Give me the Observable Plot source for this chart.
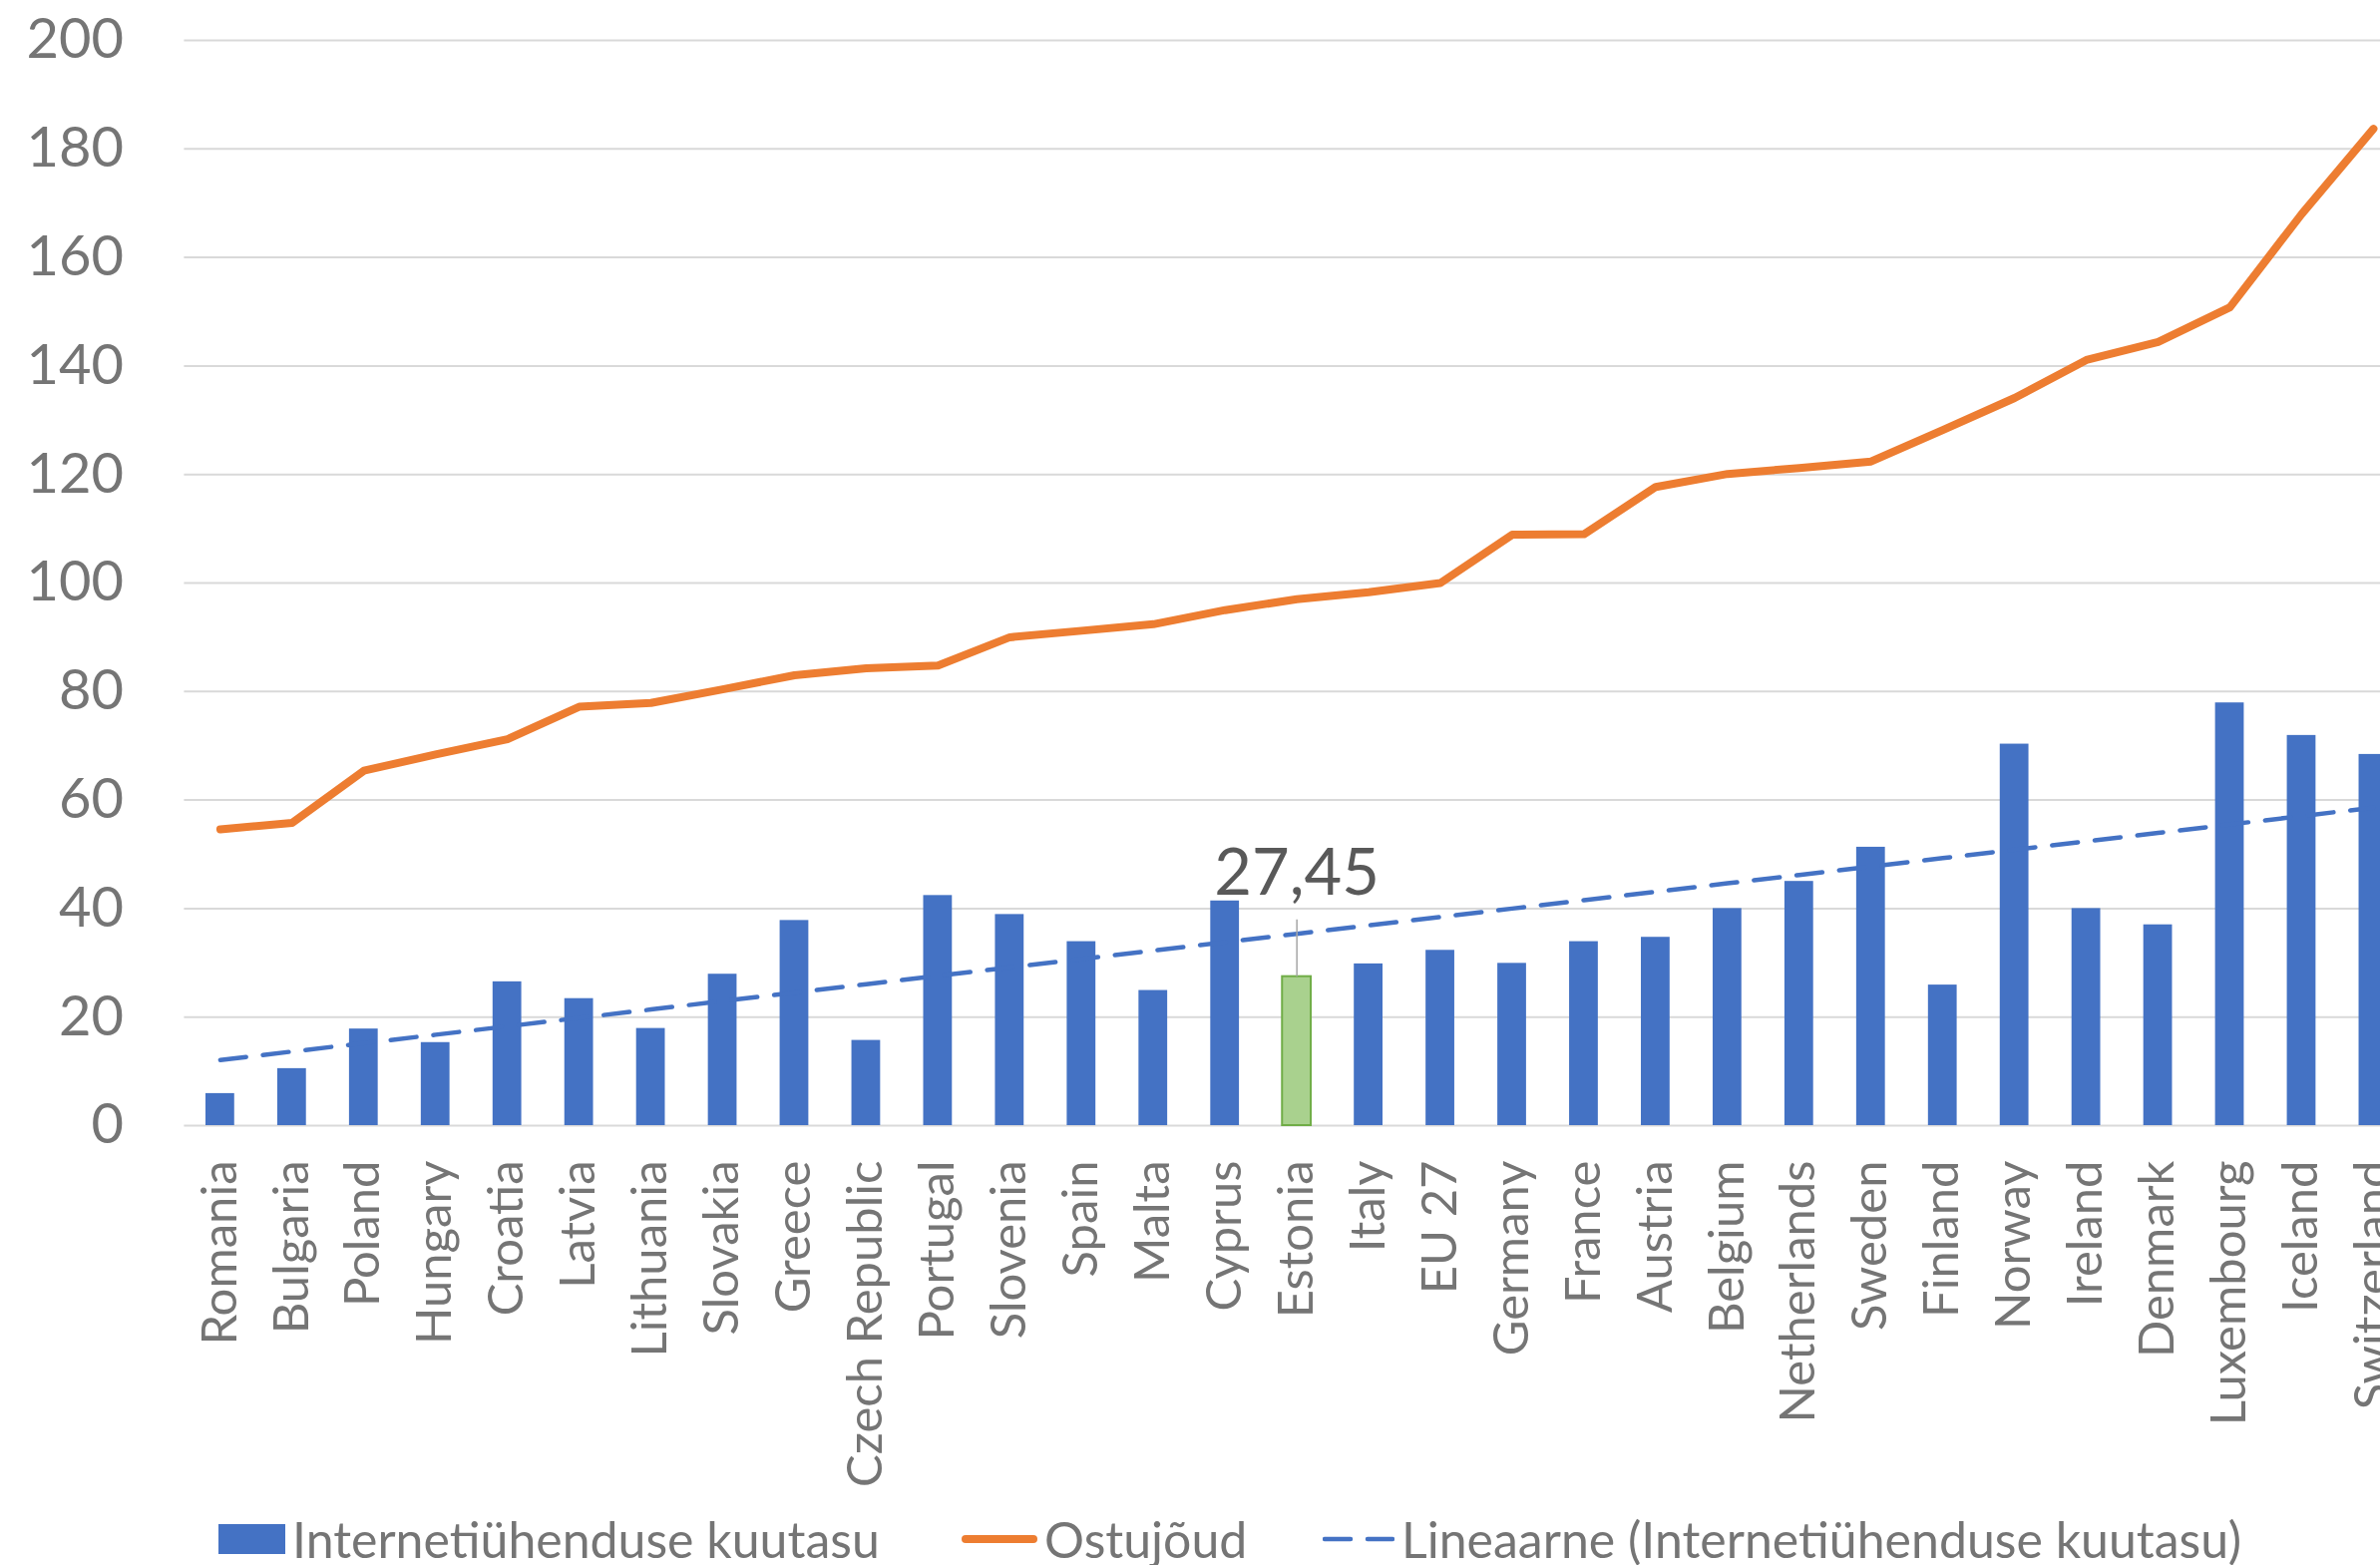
<!DOCTYPE html>
<html>
<head>
<meta charset="utf-8">
<script src="https://cdn.jsdelivr.net/npm/d3@7"></script>
<script src="https://cdn.jsdelivr.net/npm/@observablehq/plot@0.6"></script>
<style>
  html, body { margin: 0; padding: 0; background: #fff; width: 2386px; height: 1569px; overflow: hidden; }
  #chart { position: absolute; left: 0; top: 0; }
  #legend { position: absolute; left: 0; top: 1513px; width: 2386px; height: 60px;
            font-family: Lato, "Open Sans", sans-serif; font-size: 50px; color: #757575; }
  .item { position: absolute; top: 0; height: 60px; display: flex; align-items: center; gap: 7px; white-space: nowrap; }
  .item svg { display: block; }
</style>
</head>
<body>
<div id="chart"></div>
<div id="legend"></div>
<script>
// ---- data ----
const countries = ["Romania","Bulgaria","Poland","Hungary","Croatia","Latvia","Lithuania","Slovakia","Greece",
  "Czech Republic","Portugal","Slovenia","Spain","Malta","Cyprus","Estonia","Italy","EU 27","Germany","France",
  "Austria","Belgium","Netherlands","Sweden","Finland","Norway","Ireland","Denmark","Luxembourg","Iceland","Switzerland"];
const monthlyFee = [5.9, 10.5, 17.8, 15.3, 26.5, 23.4, 17.9, 27.9, 37.8,
  15.7, 42.4, 38.9, 33.9, 24.9, 41.4, 27.45, 29.8, 32.3, 29.9, 33.9,
  34.7, 40.0, 45.0, 51.3, 25.9, 70.3, 40.0, 37.0, 77.9, 71.9, 68.4];
const purchasingPower = [54.6, 55.8, 65.4, 68.4, 71.2, 77.2, 77.9, 80.4, 83.0,
  84.3, 84.8, 90.0, 91.2, 92.4, 95.0, 97.0, 98.3, 100.0, 108.9, 109.0,
  117.7, 120.1, 121.2, 122.4, 128.2, 134.1, 141.1, 144.4, 150.8, 168.0, 183.7];
const highlighted = "Estonia";
const yTicks = [0, 20, 40, 60, 80, 100, 120, 140, 160, 180, 200];
const seriesNames = ["Internetiühenduse kuutasu", "Ostujõud", "Lineaarne (Internetiühenduse kuutasu)"];

// ---- derived ----
const data = countries.map((c, i) => ({country: c, fee: monthlyFee[i], power: purchasingPower[i], i}));
const mx = d3.mean(data, d => d.i), my = d3.mean(data, d => d.fee);
const slope = d3.sum(data, d => (d.i - mx) * (d.fee - my)) / d3.sum(data, d => (d.i - mx) ** 2);
const trend = data.map(d => ({country: d.country, value: my + slope * (d.i - mx)}));
const hl = data.filter(d => d.country === highlighted);

const BLUE = "#4472C4", ORANGE = "#ED7D31", GRID = "#D9D9D9", TXT = "#757575";
const FONT = "Lato, 'Open Sans', sans-serif";

const chart = Plot.plot({
  width: 2420,
  height: 1500,
  marginTop: 40,
  marginBottom: 372,
  marginLeft: 184.4,
  marginRight: 5.1,
  style: {maxWidth: "none", background: "#fff", color: TXT, fontFamily: FONT, overflow: "visible"},
  x: {domain: countries, paddingInner: 0.6, paddingOuter: 0.3, round: false, axis: null},
  y: {domain: [0, 200], axis: null},
  marks: [
    Plot.gridY(yTicks, {stroke: GRID, strokeOpacity: 1, strokeWidth: 2}),
    Plot.axisY(yTicks, {tickSize: 0, tickPadding: 61, fontSize: 56, fill: TXT, fontFamily: FONT, label: null}),
    Plot.axisX({tickSize: 0, tickPadding: 35, tickRotate: -90, fontSize: 49, fill: TXT, fontFamily: FONT, label: null}),
    Plot.barY(data, {filter: d => d.country !== highlighted, x: "country", y: "fee", fill: BLUE}),
    Plot.barY(hl, {x: "country", y: "fee", fill: "#A9D18E", stroke: "#70AD47", strokeWidth: 2}),
    Plot.line(trend, {x: "country", y: "value", stroke: BLUE, strokeWidth: 4.5,
      strokeDasharray: "26,17", strokeLinecap: "round"}),
    Plot.line(data, {x: "country", y: "power", stroke: ORANGE, strokeWidth: 8,
      strokeLinejoin: "round", strokeLinecap: "round"}),
    Plot.ruleX(hl, {x: "country", y1: "fee", y2: "fee", insetTop: -57, stroke: "#A6A6A6", strokeWidth: 1.5}),
    Plot.text(hl, {x: "country", y: "fee", text: d => String(d.fee).replace(".", ","),
      dy: -82, lineAnchor: "bottom", fontSize: 65, fill: "#595959", fontFamily: FONT})
  ]
});
document.getElementById("chart").appendChild(chart);

// ---- legend (HTML, below the SVG) ----
const legend = d3.select("#legend");
const items = [
  {left: 219, label: seriesNames[0], draw: s => s.attr("width", 67).attr("height", 30)
      .append("rect").attr("width", 67).attr("height", 30).attr("fill", BLUE)},
  {left: 964, label: seriesNames[1], draw: s => s.attr("width", 76).attr("height", 12)
      .append("line").attr("x1", 4).attr("x2", 72).attr("y1", 6).attr("y2", 6)
      .attr("stroke", ORANGE).attr("stroke-width", 8).attr("stroke-linecap", "round")},
  {left: 1326, label: seriesNames[2], draw: s => s.attr("width", 72).attr("height", 12)
      .append("line").attr("x1", 2).attr("x2", 70).attr("y1", 6).attr("y2", 6)
      .attr("stroke", BLUE).attr("stroke-width", 4.5).attr("stroke-dasharray", "26,17").attr("stroke-linecap", "round")}
];
for (const it of items) {
  const div = legend.append("div").attr("class", "item").style("left", it.left + "px");
  it.draw(div.append("svg"));
  div.append("span").text(it.label);
}
</script>
</body>
</html>
